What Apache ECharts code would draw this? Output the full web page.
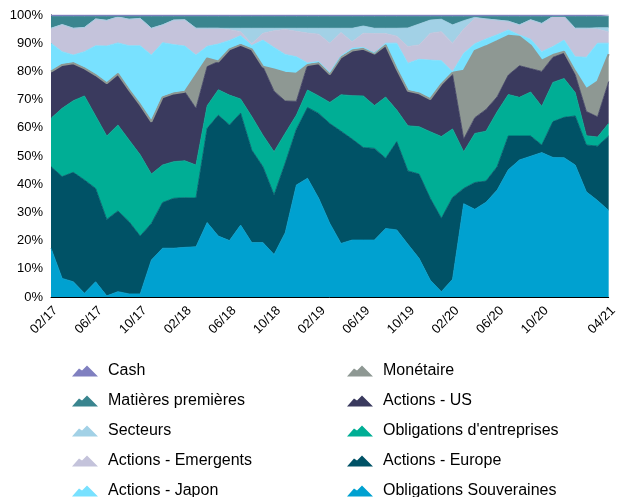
<!DOCTYPE html>
<html>
<head>
<meta charset="utf-8">
<script src="https://cdn.jsdelivr.net/npm/echarts@6/dist/echarts.min.js"></script>
<style>
  html, body { margin: 0; padding: 0; background: #fff; }
  #main { width: 620px; height: 497px; }
</style>
</head>
<body>
<div id="main"></div>
<script>
// mois 02/17 -> 04/21
const categories = [
  '02/17','03/17','04/17','05/17','06/17','07/17','08/17','09/17','10/17','11/17','12/17',
  '01/18','02/18','03/18','04/18','05/18','06/18','07/18','08/18','09/18','10/18','11/18','12/18',
  '01/19','02/19','03/19','04/19','05/19','06/19','07/19','08/19','09/19','10/19','11/19','12/19',
  '01/20','02/20','03/20','04/20','05/20','06/20','07/20','08/20','09/20','10/20','11/20','12/20',
  '01/21','02/21','03/21','04/21'
]
const yTicks = ['0%','10%','20%','30%','40%','50%','60%','70%','80%','90%','100%']

// allocations en %, de bas en haut
const souveraines = [17.3,6.6,5.4,1.3,5.4,0.4,1.9,1.1,1.1,13.1,17.3,17.3,17.6,17.8,26.4,21.6,20.0,25.5,19.3,19.3,15.1,22.8,39.7,42.1,35.0,26.1,19.0,20.2,20.2,20.2,24.3,23.8,18.7,13.7,6.0,1.9,6.3,33.1,31.1,33.6,37.9,45.1,48.6,49.9,51.2,49.5,49.4,46.8,37.3,34.2,30.7]
const europe = [28.9,36.1,38.8,40.2,33.1,27.1,28.6,25.6,20.5,13.0,16.2,17.7,17.6,17.3,33.4,42.9,41.0,39.7,32.8,26.9,21.1,24.7,19.8,25.1,30.1,35.4,39.8,35.8,32.8,32.5,24.9,31.3,26.0,29.9,29.0,26.0,29.0,5.4,9.5,7.5,8.3,12.0,8.5,7.2,2.7,12.7,14.3,17.4,16.6,19.3,26.4]
const entreprises = [17.2,24.2,25.4,29.8,25.7,29.6,30.5,29.0,28.8,17.5,13.3,13.0,13.1,11.7,8.0,9.0,10.6,5.0,11.9,11.2,15.3,10.6,5.0,6.2,6.2,7.5,12.9,15.4,18.3,15.2,21.7,11.2,16.0,16.8,23.6,29.0,24.3,13.0,17.4,17.7,19.5,14.7,13.7,15.6,13.7,13.9,13.8,8.3,3.3,3.2,4.5]
const us = [16.5,15.4,13.3,9.8,14.5,18.7,18.1,17.7,17.7,18.6,24.0,24.2,24.5,20.1,13.9,10.0,16.2,19.2,23.8,24.3,21.5,11.4,4.9,8.9,11.6,10.0,13.3,16.0,16.7,18.4,18.4,14.5,12.4,11.8,11.6,18.6,19.4,4.5,5.6,7.7,5.3,6.9,11.2,8.3,12.4,8.9,9.0,6.3,8.6,7.2,14.8]
const monetaire = [0,0,0,0,0,0,0,0,0,0,0,0,0,11.8,2.9,0,0,0,0,0,7.7,10.0,9.8,0,0,0,0,0,0,0,0,0,0,0,0,0,0.5,24.2,23.7,22.4,19.7,13.9,10.3,8.2,3.8,0.8,0.5,1.2,7.9,12.5,9.7]
const japon = [10.1,4.7,2.9,5.9,10.4,13.2,11.0,15.7,21.0,23.6,19.4,17.3,16.2,7.1,4.3,6.2,3.2,3.3,1.4,9.4,7.8,6.5,6.0,0.7,0.6,0.6,0.5,0.8,0.5,0.2,0.7,9.2,9.8,12.1,13.8,8.3,0.4,6.2,2.5,2.6,2.3,2.1,0.6,2.2,3.2,3.0,4.1,5.2,11.3,13.6,3.9]
const emergents = [5.3,9.6,9.5,8.6,9.5,9.1,9.2,9.4,9.7,9.5,6.3,8.7,9.3,9.5,6.4,5.6,3.8,1.4,0.6,2.4,5.9,8.9,9.0,10.6,9.7,10.4,8.3,2.3,5.0,6.9,3.4,2.5,5.9,5.1,9.5,10.3,10.1,8.6,9.0,7.1,5.2,3.1,3.6,6.9,10.0,10.7,8.4,10.1,10.3,5.0,4.0]
const secteurs = [0,0,0,0,0,0,0,0,0,0,0,0,0,0,0,0,0.5,1.2,5.5,1.8,0.9,0.4,1.1,1.7,2.1,5.3,1.5,4.8,2.6,1.9,1.9,2.8,6.6,7.4,4.7,4.4,6.5,3.0,0.4,0,0,0,0,0,0,0,0,0,0,0.5,1.5]
const matieres = [4.2,2.9,4.2,3.9,0.9,1.4,0.2,1.0,0.7,4.2,3.0,1.3,1.2,4.2,4.2,4.2,4.2,4.2,4.2,4.2,4.2,4.2,4.2,4.2,4.2,4.2,4.2,4.2,3.4,4.2,4.2,4.2,4.1,2.7,1.3,1.0,3.0,1.5,0.3,0.9,1.3,1.7,3.0,1.2,2.5,0,0,4.2,4.2,4.0,4.0]
const cash = [0.5,0.5,0.5,0.5,0.5,0.5,0.5,0.5,0.5,0.5,0.5,0.5,0.5,0.5,0.5,0.5,0.5,0.5,0.5,0.5,0.5,0.5,0.5,0.5,0.5,0.5,0.5,0.5,0.5,0.5,0.5,0.5,0.5,0.5,0.5,0.5,0.5,0.5,0.5,0.5,0.5,0.5,0.5,0.5,0.5,0.5,0.5,0.5,0.5,0.5,0.5]

const seriesList = [
  { name: 'Obligations Souveraines', data: souveraines, color: '#00a1d0' },
  { name: 'Actions - Europe', data: europe, color: '#005266' },
  { name: "Obligations d'entreprises", data: entreprises, color: '#00ae95' },
  { name: 'Actions - US', data: us, color: '#3a3a5e' },
  { name: 'Monétaire', data: monetaire, color: '#8e9893', line: 2 },
  { name: 'Actions - Japon', data: japon, color: '#78e1ff' },
  { name: 'Actions - Emergents', data: emergents, color: '#c4c3db' },
  { name: 'Secteurs', data: secteurs, color: '#a2d1e6' },
  { name: 'Matières premières', data: matieres, color: '#3a858f' },
  { name: 'Cash', data: cash, color: '#8080c0' },
]

const mountain = 'path://M0,11 L7,3 L10,5 L15,0 L26,11 Z'
const font = "'Liberation Sans', Arial, sans-serif"
const legendBase = {
  orient: 'vertical',
  top: 358,
  height: 200,
  itemWidth: 26,
  itemHeight: 11,
  itemGap: 14,
  icon: mountain,
  selectedMode: false,
  textStyle: { fontSize: 16, color: '#000', fontFamily: font, padding: [0, 0, 0, 5] },
}

const chart = echarts.init(document.getElementById('main'))
chart.setOption({
  animation: false,
  textStyle: { fontFamily: font },
  grid: { left: 51, right: 10, top: 15, bottom: 200 },
  legend: [
    { ...legendBase, left: 67, data: ['Cash', 'Matières premières', 'Secteurs', 'Actions - Emergents', 'Actions - Japon'] },
    { ...legendBase, left: 342, data: ['Monétaire', 'Actions - US', "Obligations d'entreprises", 'Actions - Europe', 'Obligations Souveraines'] },
  ],
  xAxis: {
    type: 'category',
    data: categories,
    boundaryGap: false,
    axisLine: { lineStyle: { color: '#000', width: 1 } },
    axisTick: { show: false },
    axisLabel: {
      rotate: 45,
      fontSize: 13,
      color: '#000',
      margin: 7,
      verticalAlign: 'top',
      // une étiquette tous les 4 mois, plus le dernier mois
      interval: (idx) => (idx % 4 === 0 && idx < 48) || idx === categories.length - 1,
    },
  },
  yAxis: {
    type: 'value',
    min: 0,
    max: 100,
    interval: 10,
    axisLine: { show: true, lineStyle: { color: '#000', width: 1 } },
    axisTick: { show: false },
    splitLine: { show: false },
    axisLabel: { fontSize: 13, color: '#000', margin: 8, formatter: (v) => yTicks[Math.round(v / 10)] },
  },
  series: seriesList.map((s) => ({
    name: s.name,
    type: 'line',
    stack: 'total',
    data: s.data,
    symbol: 'none',
    color: s.color,
    lineStyle: { width: s.line || 0.8, color: s.color },
    areaStyle: { color: s.color, opacity: 1 },
  })),
})
</script>
</body>
</html>
